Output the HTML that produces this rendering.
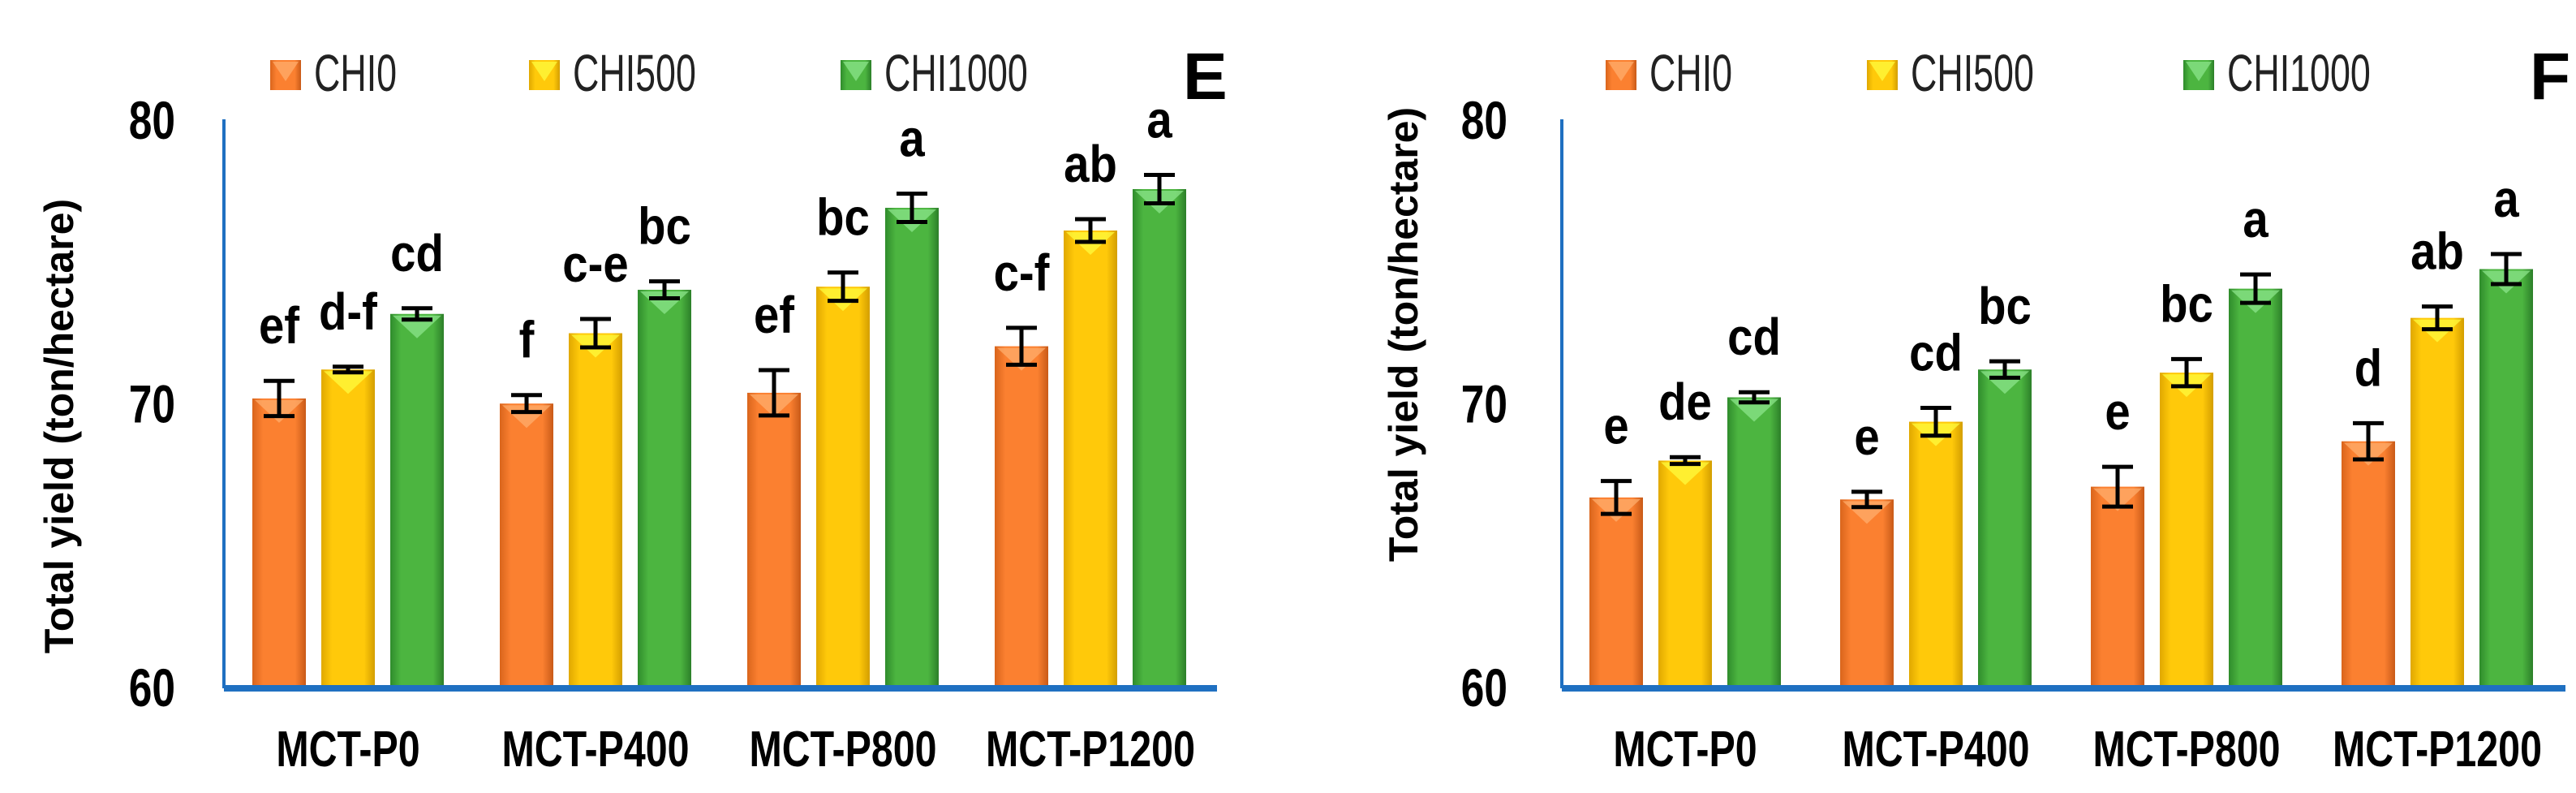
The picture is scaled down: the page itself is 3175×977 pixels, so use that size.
<!DOCTYPE html>
<html><head><meta charset="utf-8"><style>
html,body{margin:0;padding:0;background:#fff;}
svg{display:block;font-family:"Liberation Sans",sans-serif;}
</style></head><body>
<svg id="c" width="3175" height="977" viewBox="0 0 3175 977" xmlns="http://www.w3.org/2000/svg">
<defs>
<linearGradient id="gO" x1="0" x2="1"><stop offset="0" stop-color="#d9651c"/><stop offset="0.2" stop-color="#fb8030"/><stop offset="0.8" stop-color="#fb8030"/><stop offset="1" stop-color="#c85a18"/></linearGradient>
<linearGradient id="gY" x1="0" x2="1"><stop offset="0" stop-color="#e0a800"/><stop offset="0.2" stop-color="#ffc90a"/><stop offset="0.8" stop-color="#ffc90a"/><stop offset="1" stop-color="#d39e00"/></linearGradient>
<linearGradient id="gG" x1="0" x2="1"><stop offset="0" stop-color="#2f8c2c"/><stop offset="0.2" stop-color="#4cb540"/><stop offset="0.8" stop-color="#4cb540"/><stop offset="1" stop-color="#2c7f29"/></linearGradient>
</defs>
</svg>
<script>
const categories=["MCT-P0","MCT-P400","MCT-P800","MCT-P1200"];
const seriesNames=["CHI0","CHI500","CHI1000"];
const eCHI0=[70.16,69.98,70.36,72.0];
const eCHI500=[71.18,72.46,74.1,76.08];
const eCHI1000=[73.14,73.99,76.88,77.54];
const eErr0=[0.62,0.3,0.8,0.65];
const eErr500=[0.1,0.5,0.5,0.4];
const eErr1000=[0.2,0.3,0.5,0.5];
const eLetters0=["ef","f","ef","c-f"];
const eLetters500=["d-f","c-e","bc","ab"];
const eLetters1000=["cd","bc","a","a"];
const fCHI0=[66.67,66.6,67.05,68.65];
const fCHI500=[67.97,69.34,71.07,73.0];
const fCHI1000=[70.2,71.18,74.03,74.72];
const fErr0=[0.58,0.27,0.7,0.64];
const fErr500=[0.12,0.49,0.48,0.4];
const fErr1000=[0.18,0.29,0.5,0.53];
const fLetters0=["e","e","e","d"];
const fLetters500=["de","cd","bc","ab"];
const fLetters1000=["cd","bc","a","a"];
const yTicks=[60,70,80];

const NS="http://www.w3.org/2000/svg";
const svg=document.getElementById('c');
function mk(tag,attrs,parent){const e=document.createElementNS(NS,tag);for(const k in attrs)e.setAttribute(k,attrs[k]);(parent||svg).appendChild(e);return e;}
const fills=["url(#gO)","url(#gY)","url(#gG)"];
const tri=["#ffb070","#ffff40","#90e890"];
function sx(x,k){return `translate(${x},0) scale(${k},1) translate(${-x},0)`;}

function chart(p){
  const g=mk('g',{});
  
  
  const y=v=>846-(v-60)*(699/20);
  const groupX=i=>p.x0+i*p.pitch;
  [p.s0,p.s1,p.s2].forEach((arr,s)=>{
    arr.forEach((v,i)=>{
      const bx=groupX(i)+s*85, top=y(v);
      const r=mk('rect',{x:bx,y:top,width:66,height:846-top,fill:fills[s]},g);
      
      
      mk('polygon',{points:`${bx+3},${top+2} ${bx+63},${top+2} ${bx+33},${top+30}`,fill:tri[s],opacity:0.7},g);
      const er=[p.e0,p.e1,p.e2][s][i], cx=bx+33;
      const eg=mk('g',{stroke:'#000','stroke-width':5},g);
      
      
      mk('line',{x1:cx,x2:cx,y1:y(v+er),y2:y(v-er)},eg);
      mk('line',{x1:cx-19,x2:cx+19,y1:y(v+er),y2:y(v+er)},eg);
      mk('line',{x1:cx-19,x2:cx+19,y1:y(v-er),y2:y(v-er)},eg);
      const t=mk('text',{x:cx,y:y(v+er)-46,'text-anchor':'middle','font-size':64,'font-weight':'bold',transform:sx(cx,0.88)},g);
      t.textContent=[p.l0,p.l1,p.l2][s][i];
      
      
    });
  });
  const ya=mk('line',{x1:p.ax,x2:p.ax,y1:147,y2:848,stroke:'#1f70c1','stroke-width':4},g);
  
  
  const xa=mk('line',{x1:p.ax,x2:p.axEnd,y1:848,y2:848,stroke:'#1f70c1','stroke-width':8},g);
  
  
  yTicks.forEach(t=>{
    const e=mk('text',{x:p.tickX,y:y(t)+24,'text-anchor':'end','font-size':66,'font-weight':'bold',transform:sx(p.tickX,0.78)},g);
    e.textContent=t;
    
    
  });
  categories.forEach((c,i)=>{
    const cx=groupX(i)+118;
    const e=mk('text',{x:cx,y:944,'text-anchor':'middle','font-size':62,'font-weight':'bold',transform:sx(cx,0.78)},g);
    e.textContent=c;
    
    
  });
  const yt=mk('text',{x:0,y:0,'text-anchor':'middle','font-size':50,'font-weight':'bold',transform:`translate(${p.titleX},${p.titleY}) rotate(-90)`},g);
  yt.textContent='Total yield (ton/hectare)';
  
  
  seriesNames.forEach((n,s)=>{
    const lx=p.leg[s];
    const lg=mk('g',{},g);
    
    
    mk('rect',{x:lx,y:74,width:38,height:37,fill:fills[s]},lg);
    mk('polygon',{points:`${lx+3},${76} ${lx+35},${76} ${lx+19},${100}`,fill:tri[s],opacity:0.7},lg);
    const t=mk('text',{x:lx+54,y:112,'font-size':64,fill:'#222',transform:sx(lx+54,0.7)},lg);
    t.textContent=n;
  });
  const pl=mk('text',{x:p.panelX,y:122,'font-size':82,'font-weight':'bold'},g);
  pl.textContent=p.panel;
  
  
}
chart({name:'chart-e',x0:311,pitch:305,ax:276,axEnd:1500,tickX:216,titleX:90,titleY:525,leg:[333,652,1036],panel:'E',panelX:1458,
  s0:eCHI0,s1:eCHI500,s2:eCHI1000,e0:eErr0,e1:eErr500,e2:eErr1000,l0:eLetters0,l1:eLetters500,l2:eLetters1000});
chart({name:'chart-f',x0:1959,pitch:309,ax:1925,axEnd:3162,tickX:1858,titleX:1747,titleY:412,leg:[1979,2301,2691],panel:'F',panelX:3118,
  s0:fCHI0,s1:fCHI500,s2:fCHI1000,e0:fErr0,e1:fErr500,e2:fErr1000,l0:fLetters0,l1:fLetters500,l2:fLetters1000});
</script>
</body></html>
